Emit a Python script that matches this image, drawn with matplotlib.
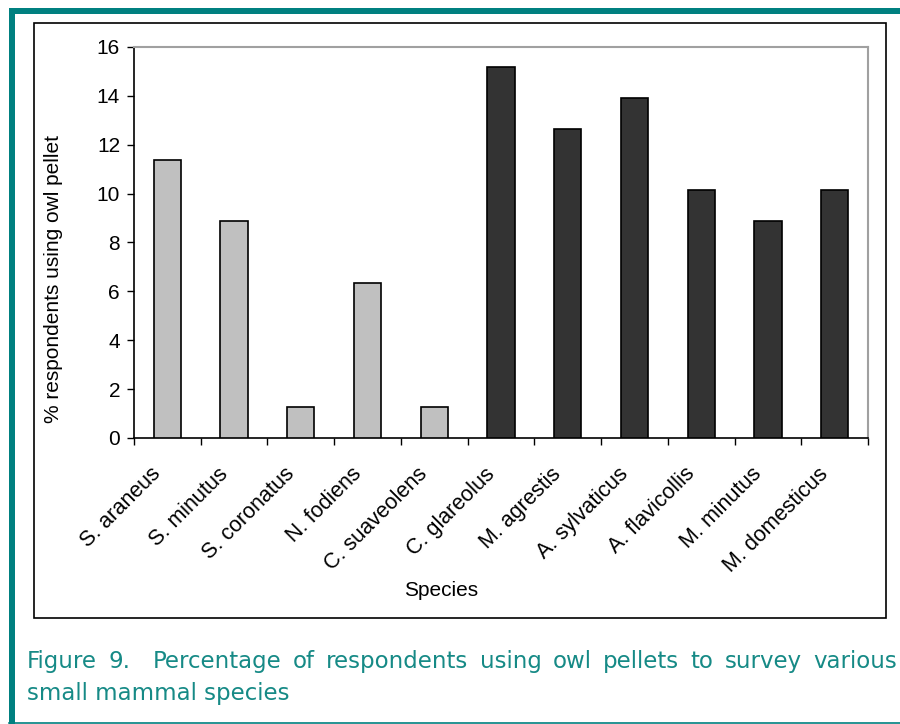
import matplotlib
matplotlib.use("Agg")
import matplotlib.pyplot as plt
import matplotlib.patches as mpatches
import matplotlib.transforms as mtransforms
from matplotlib.lines import Line2D
import numpy as np

species = ["S. araneus", "S. minutus", "S. coronatus", "N. fodiens", "C. suaveolens",
           "C. glareolus", "M. agrestis", "A. sylvaticus", "A. flavicollis", "M. minutus",
           "M. domesticus"]
values = [11.39, 8.86, 1.27, 6.33, 1.27, 15.19, 12.66, 13.92, 10.13, 8.86, 10.13]
groups = ["shrew"] * 5 + ["rodent"] * 6
group_colors = {"shrew": "#C0C0C0", "rodent": "#333333"}
yticks = [0, 2, 4, 6, 8, 10, 12, 14, 16]
caption_line1 = "Figure 9.  Percentage of respondents using owl pellets to survey various"
caption_line2 = "small mammal species"

W, H = 900, 724
fig = plt.figure(figsize=(W / 100, H / 100), dpi=100)
plt.rcParams['font.family'] = ['Liberation Sans', 'DejaVu Sans']

def fx(px):
    return px / W

def fy(py):
    return 1 - py / H

teal = "#008080"
cap_col = "#168a86"

# teal frame
fig.patches.append(mpatches.Rectangle((fx(9), fy(14)), fx(900) - fx(9), fy(8) - fy(14),
                                      transform=fig.transFigure, color=teal, lw=0))
fig.patches.append(mpatches.Rectangle((fx(9), fy(724)), fx(15) - fx(9), fy(8) - fy(724),
                                      transform=fig.transFigure, color=teal, lw=0))
fig.lines.append(Line2D([fx(9), 1], [fy(722.5), fy(722.5)], transform=fig.transFigure,
                        color=teal, lw=1.2))

# chart box
fig.patches.append(mpatches.Rectangle((fx(34), fy(618)), fx(886) - fx(34), fy(23) - fy(618),
                                      transform=fig.transFigure, fill=False,
                                      edgecolor="black", lw=1.2))

ax = fig.add_axes([fx(134), fy(438), fx(868) - fx(134), fy(47) - fy(438)])
x = np.arange(len(species))
colors = [group_colors[g] for g in groups]
ax.bar(x, values, width=0.41, color=colors, edgecolor="black", linewidth=1.2, zorder=3)
ax.set_xlim(-0.5, len(species) - 0.5)
ax.set_ylim(0, 16)
ax.set_yticks(yticks)
ax.set_yticklabels([str(t) for t in yticks], fontsize=15)
ax.set_xticks(x)
ax.set_xticklabels(species, rotation=45, ha="right", rotation_mode="anchor", fontsize=15.5)
ax.set_xticks(np.arange(-0.5, len(species)), minor=True)
ax.tick_params(axis="x", which="major", length=0, pad=14)
ax.tick_params(axis="x", which="minor", length=5, width=1, direction="out")
ax.tick_params(axis="y", length=5, width=1, direction="out", pad=5)
offset = mtransforms.ScaledTranslation(-17 / 100, -6 / 100, fig.dpi_scale_trans)
for lab in ax.get_xticklabels():
    lab.set_transform(lab.get_transform() + offset)
for s in ["top", "right"]:
    ax.spines[s].set_color("#a0a0a0")
    ax.spines[s].set_linewidth(1.5)
for s in ["left", "bottom"]:
    ax.spines[s].set_color("black")
    ax.spines[s].set_linewidth(1.2)

fig.text(fx(441), fy(591), "Species", ha="center", va="center", fontsize=15)
fig.text(fx(54), fy(279), "% respondents using owl pellet", ha="center", va="center",
         rotation=90, fontsize=15)

# caption, first line justified
cap_fs = 16.5
fig.canvas.draw()
renderer = fig.canvas.get_renderer()
tokens = [w for w in caption_line1.split(" ") if w != ""]
texts = []
widths = []
for w in tokens:
    t = fig.text(0, fy(668), w, fontsize=cap_fs, color=cap_col, family="DejaVu Sans",
                 ha="left", va="baseline")
    texts.append(t)
    widths.append(t.get_window_extent(renderer).width)
left, right = 27, 897
gap_weights = [2 if i == 1 else 1 for i in range(len(tokens) - 1)]
total_gap = (right - left) - sum(widths)
unit = total_gap / sum(gap_weights)
pos = left
for i, t in enumerate(texts):
    t.set_x(fx(pos))
    pos += widths[i]
    if i < len(gap_weights):
        pos += unit * gap_weights[i]

fig.text(fx(27), fy(700), caption_line2, fontsize=cap_fs, color=cap_col,
         family="DejaVu Sans", ha="left", va="baseline")

fig.savefig("out.png", dpi=100)
